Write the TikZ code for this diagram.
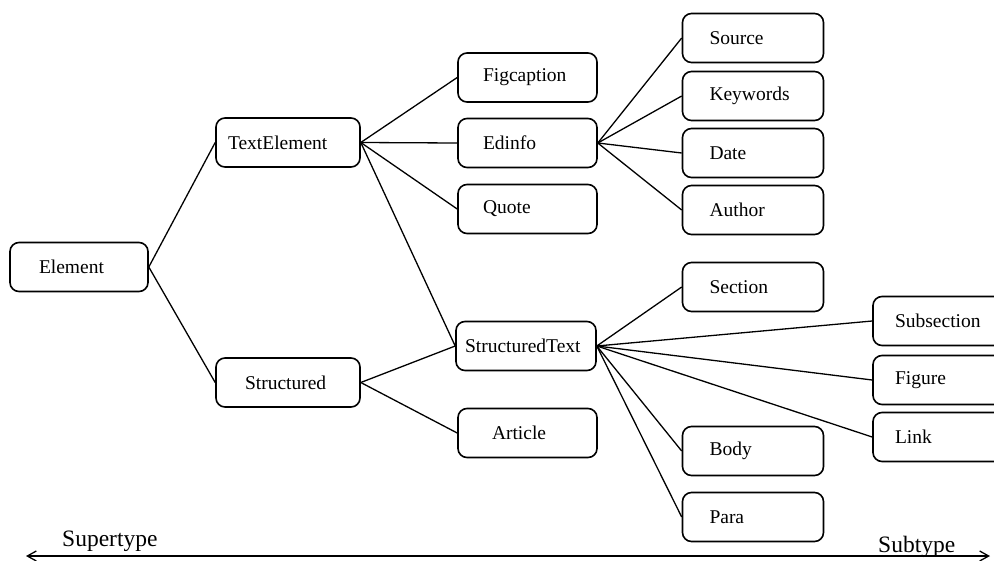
\documentclass[tikz,border=0pt]{standalone}
\usepackage{fontspec}
\setmainfont{Liberation Serif}
\usetikzlibrary{arrows.meta}
% box label: fixed box width, left indent, text
\newcommand{\boxlabel}[3]{\makebox[#1pt][l]{\hspace*{#2pt}#3}}
\begin{document}
\begin{tikzpicture}[x=1pt,y=-1pt,
  tbox/.style={draw, line width=1.6pt, rounded corners=9pt, inner xsep=0pt,
    inner ysep=0pt, minimum height=49pt, font=\fontsize{19.5}{22}\selectfont},
  link/.style={line width=1.3pt},
  note/.style={font=\fontsize{23.5}{27}\selectfont, inner sep=0pt}]
\useasboundingbox (0,0) rectangle (994,560);
\clip (0,0) rectangle (994,560);

% type hierarchy
\node[tbox] (element)        at (79,267)    {\boxlabel{138}{29}{Element}};
\node[tbox] (textelement)    at (288,142.5) {\boxlabel{144}{12}{TextElement}};
\node[tbox] (structured)     at (288,382.5) {\boxlabel{144}{29}{Structured}};

\node[tbox] (figcaption)     at (527.5,77.5) {\boxlabel{139}{25}{Figcaption}};
\node[tbox] (edinfo)         at (527.5,143)  {\boxlabel{139}{25}{Edinfo}};
\node[tbox] (quote)          at (527.5,209)  {\boxlabel{139}{25}{Quote}};
\node[tbox] (structuredtext) at (526,346)    {\boxlabel{140}{9}{StructuredText}};
\node[tbox] (article)        at (527.5,433)  {\boxlabel{139}{34}{Article}};

\node[tbox] (source)   at (753,38)  {\boxlabel{141}{27}{Source}};
\node[tbox] (keywords) at (753,96)  {\boxlabel{141}{27}{Keywords}};
\node[tbox] (date)     at (753,153) {\boxlabel{141}{27}{Date}};
\node[tbox] (author)   at (753,210) {\boxlabel{141}{27}{Author}};
\node[tbox] (section)  at (753,287) {\boxlabel{141}{27}{Section}};
\node[tbox] (body)     at (753,451) {\boxlabel{141}{27}{Body}};
\node[tbox] (para)     at (753,517) {\boxlabel{141}{27}{Para}};

\node[tbox] (subsection) at (943,321) {\boxlabel{140}{22}{Subsection}};
\node[tbox] (figure)     at (943,380) {\boxlabel{140}{22}{Figure}};
\node[tbox] (link)       at (943,437) {\boxlabel{140}{22}{Link}};

% subtype links
\foreach \c in {textelement,structured}
  \draw[link] (element.east) -- (\c.west);
\foreach \c in {figcaption,edinfo,quote,structuredtext}
  \draw[link] (textelement.east) -- (\c.west);
\foreach \c in {structuredtext,article}
  \draw[link] (structured.east) -- (\c.west);
\foreach \c in {source,keywords,date,author}
  \draw[link] (edinfo.east) -- (\c.west);
\foreach \c in {section,subsection,figure,link,body,para}
  \draw[link] (structuredtext.east) -- (\c.west);

% direction axis
\coordinate (axisL) at (26,556);
\coordinate (axisR) at (990,556);
\draw[link, {Straight Barb[length=9pt,width=10pt]}-{Straight Barb[length=9pt,width=10pt]}]
  (axisL) -- (axisR);
\node[note, anchor=west] (supertype) at (62,541) {Supertype};
\node[note, anchor=west] (subtype)   at (878,547) {Subtype};
\end{tikzpicture}
\end{document}
